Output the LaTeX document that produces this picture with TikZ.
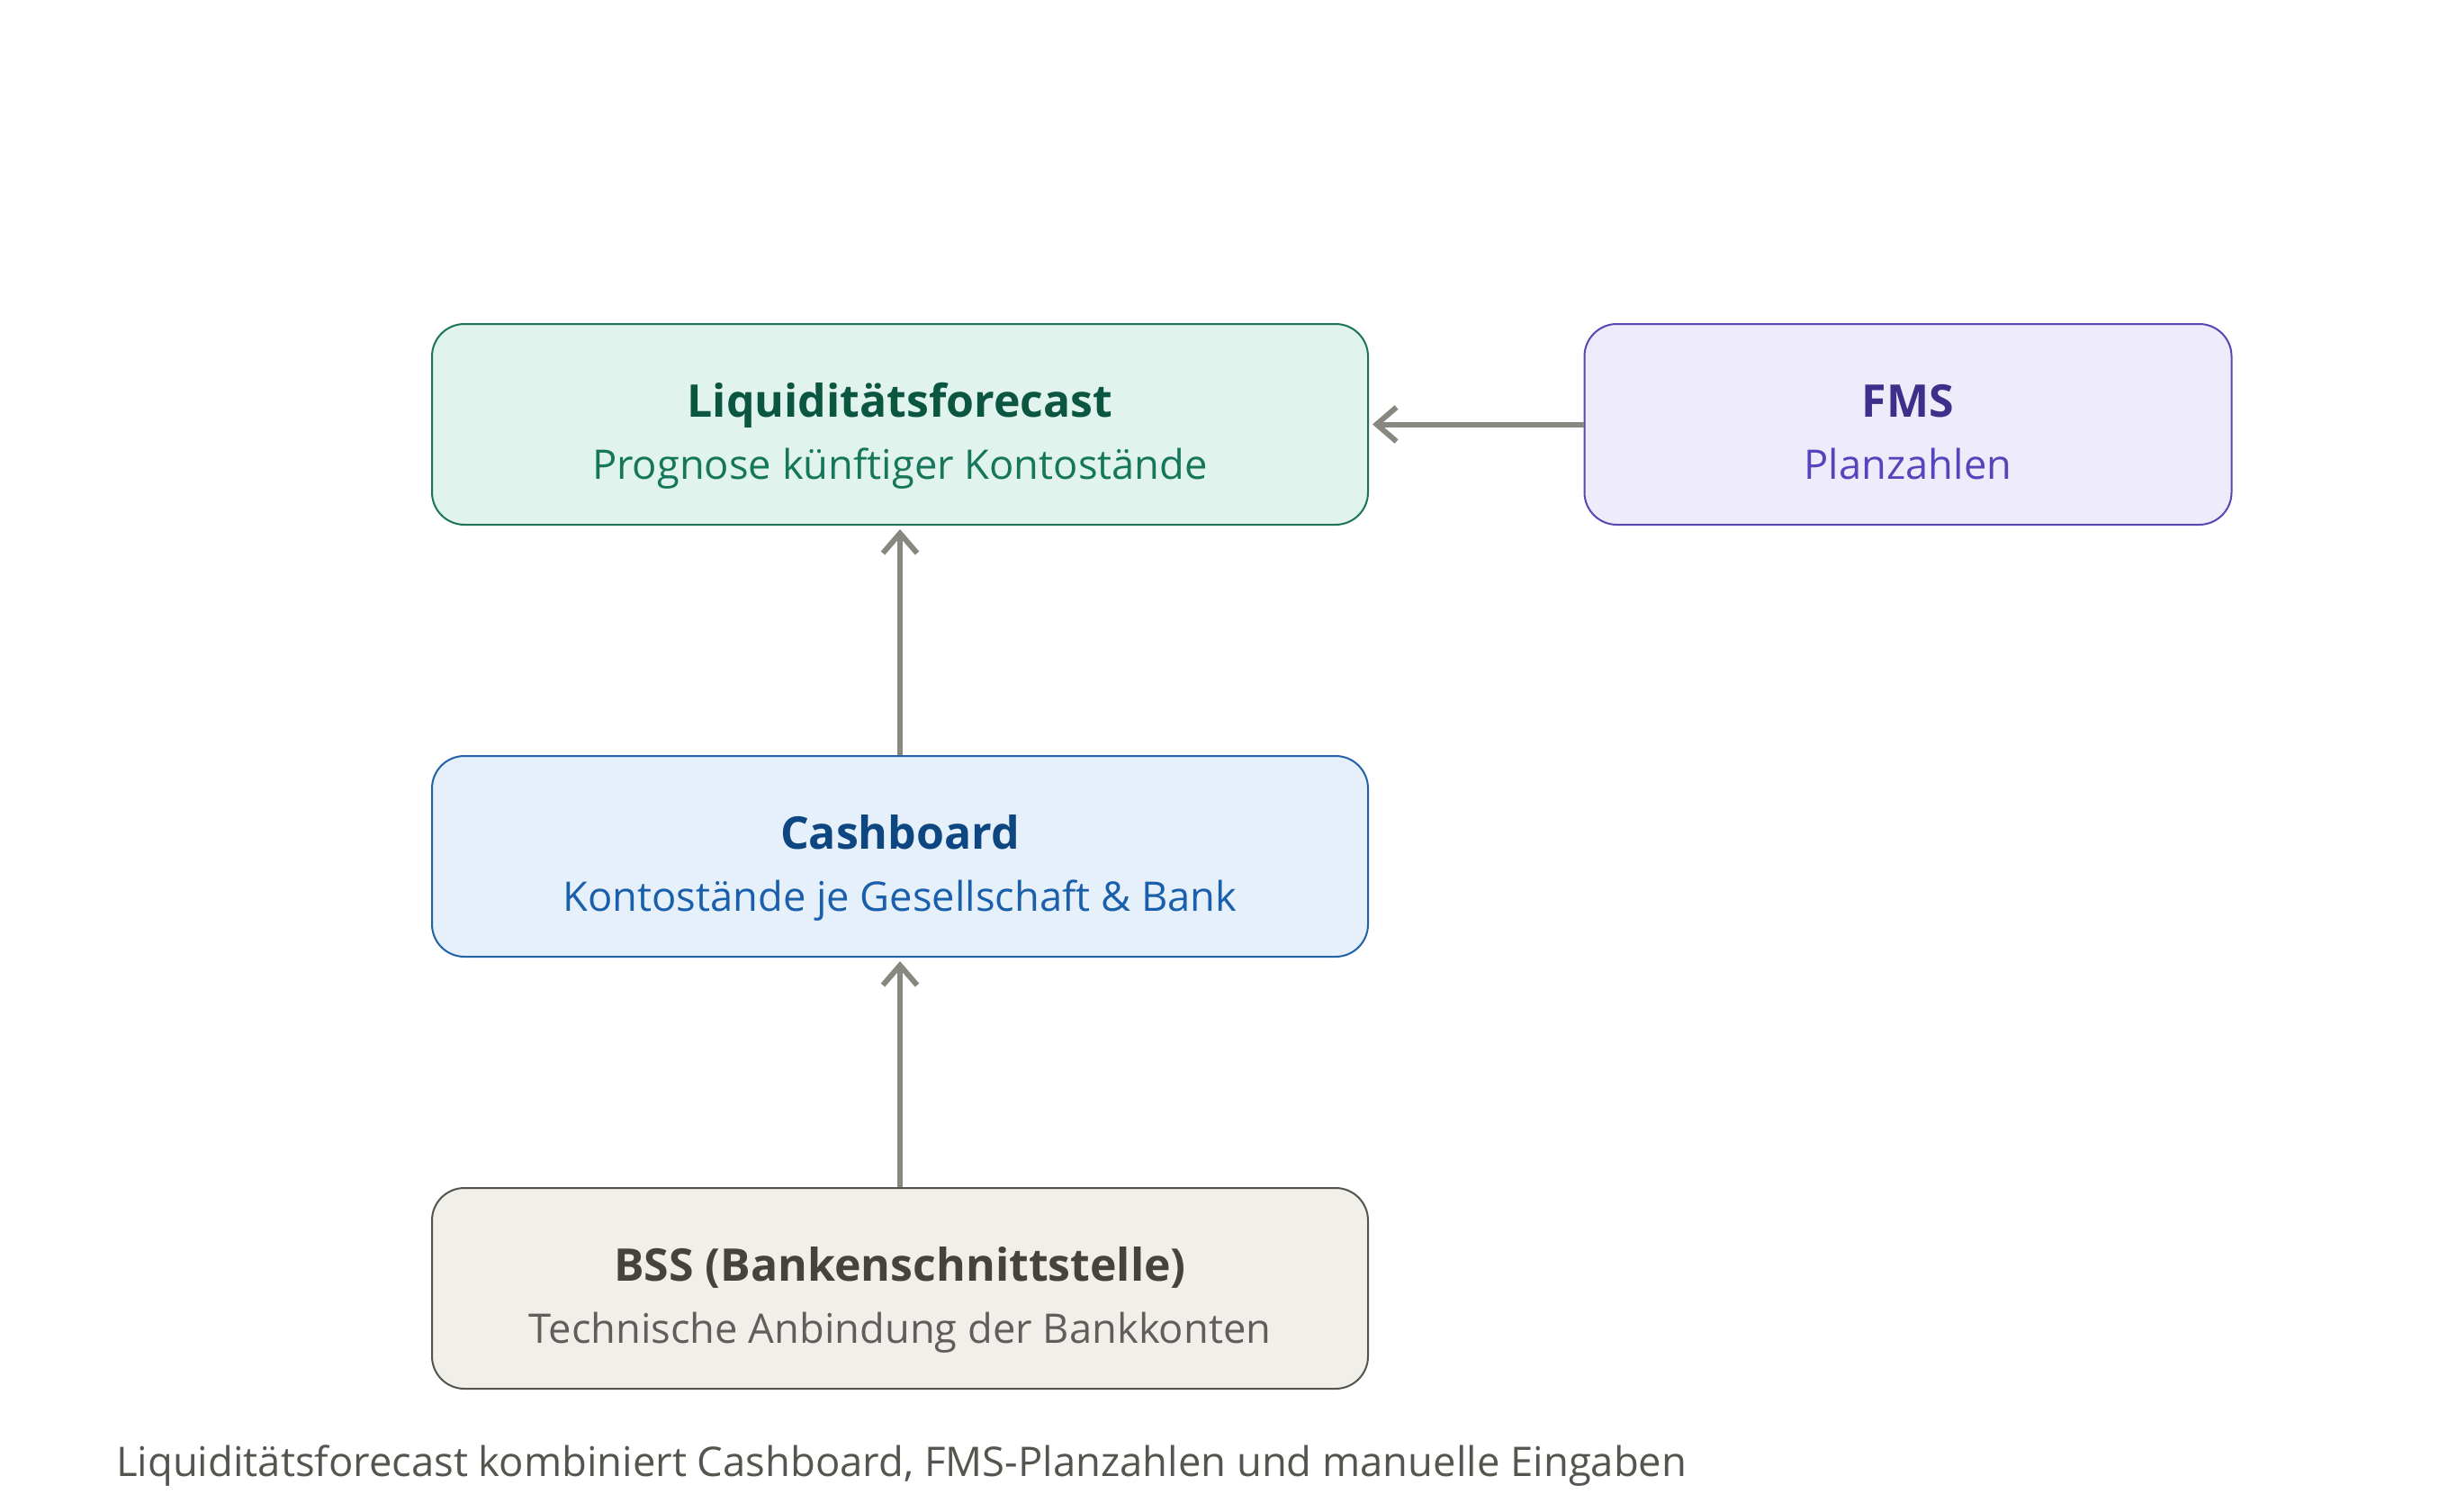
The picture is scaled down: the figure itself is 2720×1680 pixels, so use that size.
\documentclass[tikz,border=0pt]{standalone}
\usepackage{fontspec}
\setmainfont{Open Sans}
\usetikzlibrary{arrows.meta}
\definecolor{gfill}{HTML}{E0F3EC}\definecolor{gline}{HTML}{1B7358}\definecolor{gtitle}{HTML}{0B5640}\definecolor{gsub}{HTML}{15775A}
\definecolor{pfill}{HTML}{EEECFB}\definecolor{pline}{HTML}{5547B5}\definecolor{ptitle}{HTML}{3D2F8A}\definecolor{psub}{HTML}{5545BD}
\definecolor{bfill}{HTML}{E6F0FA}\definecolor{bline}{HTML}{1F62A8}\definecolor{btitle}{HTML}{0D4680}\definecolor{bsub}{HTML}{1A5FAB}
\definecolor{sfill}{HTML}{F1EFE9}\definecolor{sline}{HTML}{55534E}\definecolor{stitle}{HTML}{44433E}\definecolor{ssub}{HTML}{5F5E5A}
\definecolor{capc}{HTML}{55544F}\definecolor{arr}{HTML}{888880}
\tikzset{
  box/.style={draw, line width=2pt, rounded corners=36pt, inner sep=0pt},
  ttl/.style={anchor=base, inner sep=0pt, font=\fontsize{50}{58}\selectfont\bfseries},
  sub/.style={anchor=base, inner sep=0pt, font=\fontsize{45.3}{52}\selectfont},
  conn/.style={draw=arr, line width=6pt, -{Straight Barb[length=22pt,width=38pt,line width=6pt]}, shorten >=4pt}
}
\begin{document}
\begin{tikzpicture}[x=1pt,y=-1pt]
\useasboundingbox[fill=white] (0,0) rectangle (2720,1680);
\node[box, fill=gfill, draw=gline, minimum width=1040pt, minimum height=223pt] (lf) at (1000,471.5) {};
\node[box, fill=pfill, draw=pline, minimum width=719pt, minimum height=223pt] (fms) at (2120,471.5) {};
\node[box, fill=bfill, draw=bline, minimum width=1040pt, minimum height=223pt] (cb) at (1000,951.5) {};
\node[box, fill=sfill, draw=sline, minimum width=1040pt, minimum height=223pt] (bss) at (1000,1431.5) {};

\node[ttl, text=gtitle] (lft) at ([yshift=8.5pt]lf.center) {Liquiditätsforecast};
\node[sub, text=gsub] (lfs) at ([yshift=-60.5pt]lf.center) {Prognose künftiger Kontostände};
\node[ttl, text=ptitle] (fmst) at ([yshift=8.5pt]fms.center) {FMS};
\node[sub, text=psub] (fmss) at ([yshift=-60.5pt]fms.center) {Planzahlen};
\node[ttl, text=btitle] (cbt) at ([yshift=8.5pt]cb.center) {Cashboard};
\node[sub, text=bsub] (cbs) at ([yshift=-60.5pt]cb.center) {Kontostände je Gesellschaft \& Bank};
\node[ttl, text=stitle] (bsst) at ([yshift=8.5pt]bss.center) {BSS (Bankenschnittstelle)};
\node[sub, text=ssub] (bsss) at ([yshift=-60.5pt]bss.center) {Technische Anbindung der Bankkonten};

\path[conn] (fms.west) -- (lf.east);
\path[conn] (cb.north) -- (lf.south);
\path[conn] (bss.north) -- (cb.south);

\node[anchor=base west, inner sep=0pt, text=capc, font=\fontsize{45.4}{52}\selectfont] (cap) at (129,1640) {Liquiditätsforecast kombiniert Cashboard, FMS-Planzahlen und manuelle Eingaben};
\end{tikzpicture}
\end{document}
